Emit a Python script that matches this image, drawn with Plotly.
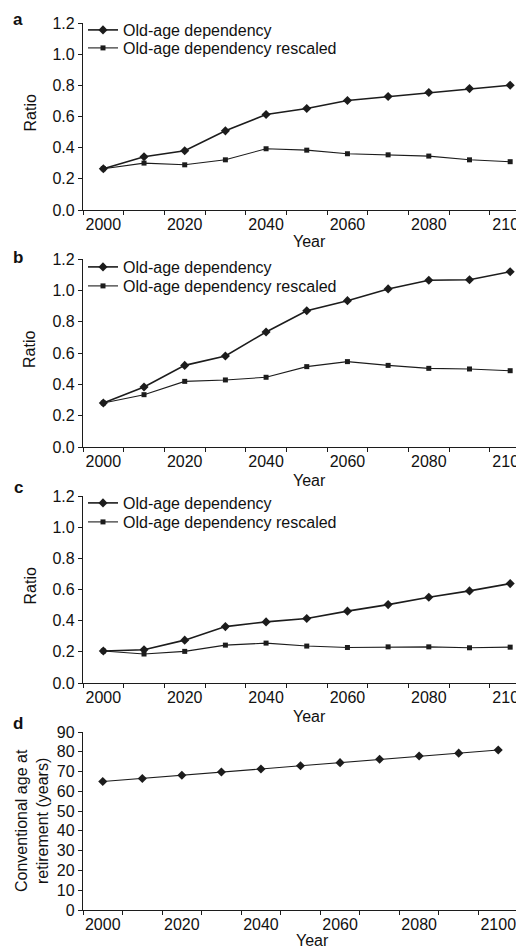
import plotly.graph_objects as go

years = [2000, 2010, 2020, 2030, 2040, 2050, 2060, 2070, 2080, 2090, 2100]

a_old = [0.265, 0.342, 0.380, 0.508, 0.613, 0.651, 0.703, 0.728, 0.754, 0.779, 0.801]
a_rescaled = [0.265, 0.301, 0.290, 0.322, 0.393, 0.384, 0.361, 0.354, 0.346, 0.322, 0.310]

b_old = [0.281, 0.383, 0.521, 0.581, 0.734, 0.870, 0.934, 1.009, 1.064, 1.068, 1.119]
b_rescaled = [0.281, 0.334, 0.419, 0.428, 0.445, 0.513, 0.545, 0.521, 0.502, 0.498, 0.487]

c_old = [0.205, 0.213, 0.275, 0.362, 0.392, 0.414, 0.461, 0.503, 0.550, 0.591, 0.638]
c_rescaled = [0.205, 0.186, 0.203, 0.243, 0.256, 0.237, 0.228, 0.232, 0.232, 0.226, 0.230]

d_age = [65.0, 66.5, 68.1, 69.8, 71.3, 72.9, 74.5, 76.2, 77.9, 79.3, 80.9]

x_ticklabels = [2000, 2020, 2040, 2060, 2080, 2100]
x_minor_ticks = [1995, 2005, 2015, 2025, 2035, 2045, 2055, 2065, 2075, 2085, 2095, 2105]
ratio_ticks = [0.0, 0.2, 0.4, 0.6, 0.8, 1.0, 1.2]
age_ticks = [0, 10, 20, 30, 40, 50, 60, 70, 80, 90]

name_old = "Old-age dependency"
name_rescaled = "Old-age dependency rescaled"
panel_letters = ["a", "b", "c", "d"]

W, H = 524, 948
OFF = 8  # page body margin
INK = "#1c1c1c"
FONT = "Liberation Sans, Arial, Helvetica, sans-serif"


def fx(px):
    return (px - OFF) / W


def fy(py):
    return 1 - (py - OFF) / H


fig = go.Figure()

# each legend entry gets its own legend box so the spacing can match
panels = [
    (a_old, a_rescaled, "legend", "legend4"),
    (b_old, b_rescaled, "legend2", "legend5"),
    (c_old, c_rescaled, "legend3", "legend6"),
]
for i, (old, res, leg_old, leg_res) in enumerate(panels):
    ax = "" if i == 0 else str(i + 1)
    fig.add_trace(go.Scatter(
        x=years, y=old, name=name_old, mode="lines+markers",
        line=dict(color=INK, width=1.6),
        marker=dict(symbol="diamond", size=7, color=INK),
        xaxis="x" + ax, yaxis="y" + ax, legend=leg_old, showlegend=True,
    ))
    fig.add_trace(go.Scatter(
        x=years, y=res, name=name_rescaled, mode="lines+markers",
        line=dict(color=INK, width=1.1),
        marker=dict(symbol="square", size=5, color=INK),
        xaxis="x" + ax, yaxis="y" + ax, legend=leg_res, showlegend=True,
    ))

fig.add_trace(go.Scatter(
    x=years, y=d_age, mode="lines+markers",
    line=dict(color=INK, width=1.1),
    marker=dict(symbol="diamond", size=7, color=INK),
    xaxis="x4", yaxis="y4", showlegend=False,
))

# pixel geometry of the four plot areas: (top, bottom, right, x_range_end)
geom = [
    (23, 210, 524, 2103.4),
    (259, 447, 524, 2103.4),
    (496, 683, 524, 2103.4),
    (732, 910, 518, 2105.0),
]
left = 83

axis_common = dict(
    showline=True, linecolor=INK, linewidth=1.3,
    showgrid=False, zeroline=False, automargin=False,
    tickfont=dict(family=FONT, size=16, color="#111"),
)

layout = {}
for i, (top, bot, right, xend) in enumerate(geom):
    n = "" if i == 0 else str(i + 1)
    layout["xaxis" + n] = dict(
        axis_common,
        domain=[fx(left), fx(right)],
        anchor="y" + n,
        range=[1995, xend],
        tickmode="array", tickvals=x_ticklabels,
        ticktext=[str(v) for v in x_ticklabels],
        ticks="", ticklen=0, ticklabeloverflow="allow",
        minor=dict(tickmode="array", tickvals=x_minor_ticks, ticks="outside",
                   ticklen=4, tickwidth=1.2, tickcolor=INK),
    )
    if i < 3:
        yt = dict(range=[0, 1.2], tickvals=ratio_ticks,
                  ticktext=["%.1f" % v for v in ratio_ticks])
    else:
        yt = dict(range=[0, 90], tickvals=age_ticks,
                  ticktext=[str(v) for v in age_ticks])
    layout["yaxis" + n] = dict(
        axis_common,
        domain=[fy(bot), fy(top)],
        anchor="x" + n,
        tickmode="array",
        ticks="outside", ticklen=4, tickwidth=1.2, tickcolor=INK,
        **yt,
    )

leg_style = dict(
    font=dict(family=FONT, size=16, color="#111"),
    bgcolor="rgba(0,0,0,0)", borderwidth=0,
    xanchor="left", yanchor="middle", tracegroupgap=0,
    itemwidth=30,
)
legend_rows = [30, 267, 503, 48, 286, 522]
for k, py in enumerate(legend_rows):
    key = "legend" if k == 0 else "legend%d" % (k + 1)
    layout[key] = dict(leg_style, x=fx(83), y=fy(py))

annotations = []
# panel letters
for letter, py in zip(panel_letters, [20, 257, 487, 723]):
    annotations.append(dict(
        text="<b>%s</b>" % letter, x=fx(18), y=fy(py), xref="paper", yref="paper",
        showarrow=False, font=dict(family=FONT, size=17, color="#111"),
        xanchor="center", yanchor="middle",
    ))
# x-axis titles
for px, py in [(309, 241), (309, 480), (309, 716), (312, 940)]:
    annotations.append(dict(
        text="Year", x=fx(px), y=fy(py), xref="paper", yref="paper",
        showarrow=False, font=dict(family=FONT, size=16, color="#111"),
        xanchor="center", yanchor="middle",
    ))
# y-axis titles
for top, bot, _, _ in geom[:3]:
    annotations.append(dict(
        text="Ratio", x=fx(30), y=fy((top + bot) / 2 - 3), xref="paper", yref="paper",
        showarrow=False, textangle=-90, font=dict(family=FONT, size=16, color="#111"),
        xanchor="center", yanchor="middle",
    ))
annotations.append(dict(
    text="Conventional age at<br>retirement (years)", x=fx(32), y=fy(821),
    xref="paper", yref="paper", showarrow=False, textangle=-90,
    font=dict(family=FONT, size=16, color="#111"),
    xanchor="center", yanchor="middle",
))

fig.update_layout(
    template="none",
    width=W, height=H,
    margin=dict(l=0, r=0, t=0, b=0, autoexpand=False),
    paper_bgcolor="white", plot_bgcolor="white",
    annotations=annotations,
    **layout,
)

fig.write_html("out.html")
